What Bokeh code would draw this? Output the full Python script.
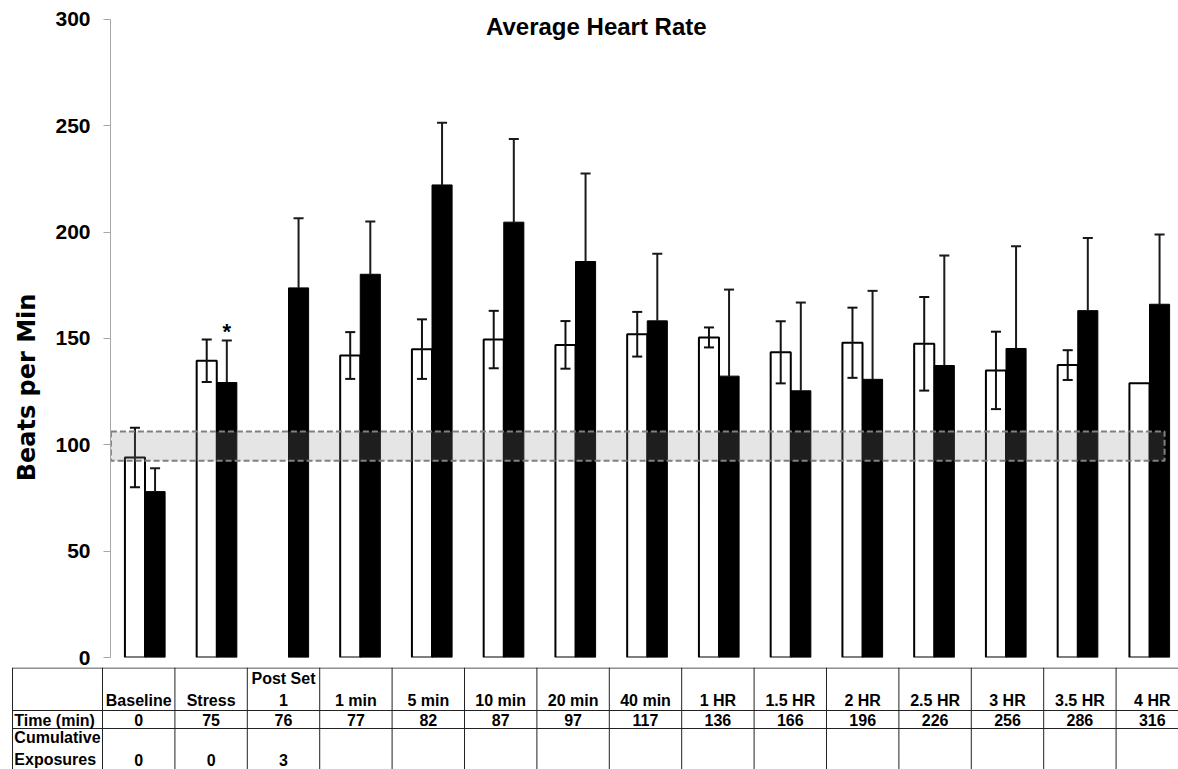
import numpy as np
from bokeh.plotting import figure
from bokeh.models import Range1d, FixedTicker, ColumnDataSource, LinearAxis
from bokeh.layouts import column
from bokeh.embed import file_html
from bokeh.resources import INLINE
from bokeh.core.properties import value

# ---------------- data ----------------
categories = ["Baseline", "Stress", "Post Set\n1", "1 min", "5 min", "10 min", "20 min",
              "40 min", "1 HR", "1.5 HR", "2 HR", "2.5 HR", "3 HR", "3.5 HR", "4 HR"]
time_min = ["0", "75", "76", "77", "82", "87", "97", "117", "136", "166", "196",
            "226", "256", "286", "316"]
cum_exposures = ["0", "0", "3", "", "", "", "", "", "", "", "", "", "", "", ""]

white_mean = [94, 139.5, np.nan, 142, 145, 149.5, 147, 152, 150.5, 143.5, 148, 147.5, 135, 137.5, 129]
white_err = [14, 10, np.nan, 11, 14, 13.5, 11.2, 10.5, 4.7, 14.6, 16.5, 22, 18.2, 7, np.nan]
black_mean = [78, 129.3, 173.8, 180.2, 222.2, 204.7, 186.2, 158.3, 132.3, 125.4, 130.8, 137.3, 145.3, 163.1, 166.1]
black_err = [11, 19.7, 32.7, 24.8, 29.2, 39.1, 41.4, 31.6, 40.7, 41.5, 41.6, 51.7, 48.1, 34.2, 32.8]
significance = ["", "*", "", "", "", "", "", "", "", "", "", "", "", "", ""]

ref_low, ref_high = 92.5, 106.3
y_ticks = [0, 50, 100, 150, 200, 250, 300]

FONT = value("Liberation Sans")

# ---------------- chart ----------------
n = len(categories)
xs = np.arange(n, dtype=float)
off, bw, cap = 0.14, 0.28, 0.07

wm = np.array(white_mean, dtype=float)
we = np.array(white_err, dtype=float)
bm = np.array(black_mean, dtype=float)
be = np.array(black_err, dtype=float)

p = figure(width=1178, height=667, x_range=Range1d(-0.481, 14.404), y_range=Range1d(0, 308.93),
           output_backend="svg", toolbar_location=None, x_axis_location=None,
           min_border_left=110, min_border_right=0, min_border_top=0, min_border_bottom=10,
           outline_line_color=None, background_fill_color="white", border_fill_color="white")
p.grid.visible = False
p.frame_align = False

ax = p.yaxis[0]
ax.ticker = FixedTicker(ticks=y_ticks)
ax.bounds = (0, 300)
ax.axis_line_color = "#a6a6a6"
ax.major_tick_line_color = "#a6a6a6"
ax.minor_tick_line_color = None
ax.major_tick_out = 7
ax.major_tick_in = 0
ax.major_label_text_font = "Liberation Sans"
ax.major_label_text_font_style = "bold"
ax.major_label_text_font_size = "21px"
ax.major_label_text_color = "black"
ax.major_label_standoff = 13

# outer axis used only to carry the axis title; trailing no-break spaces shift it lower
lab_axis = LinearAxis(ticker=FixedTicker(ticks=[]), bounds=(0, 300),
                      axis_line_color=None, major_tick_line_color=None, minor_tick_line_color=None,
                      major_tick_out=0, major_tick_in=0, major_label_text_font_size="0px",
                      axis_label="Beats per Min" + "\u00a0" * 14, axis_label_text_font="DejaVu Sans",
                      axis_label_text_font_style="bold", axis_label_text_font_size="24px",
                      axis_label_text_color="black", axis_label_standoff=12)
p.add_layout(lab_axis, "left")

src = ColumnDataSource(dict(
    xw=xs - off, xb=xs + off, wm=wm, bm=bm,
    wlo=wm - we, whi=wm + we, bhi=bm + be,
    xw0=xs - off - cap, xw1=xs - off + cap, xb0=xs + off - cap, xb1=xs + off + cap,
))

p.vbar(x="xw", top="wm", width=bw, source=src, fill_color="white", line_color="black", line_width=2)
p.vbar(x="xb", top="bm", width=bw, source=src, fill_color="black", line_color="black", line_width=1)

# error bars
p.segment(x0="xw", y0="wlo", x1="xw", y1="whi", source=src, line_color="#111111", line_width=2)
p.segment(x0="xw0", y0="whi", x1="xw1", y1="whi", source=src, line_color="#111111", line_width=2)
p.segment(x0="xw0", y0="wlo", x1="xw1", y1="wlo", source=src, line_color="#111111", line_width=2)
p.segment(x0="xb", y0="bm", x1="xb", y1="bhi", source=src, line_color="#1a1a1a", line_width=2)
p.segment(x0="xb0", y0="bhi", x1="xb1", y1="bhi", source=src, line_color="#1a1a1a", line_width=2)

# reference band
p.quad(left=[-0.475], right=[14.21], bottom=[ref_low], top=[ref_high],
       fill_color="#898989", fill_alpha=0.22, line_color="#808080", line_width=2, line_dash="6 3")

# significance marker
p.text(x=xs + off, y=bm + be + 10, text=significance, text_align="center", text_baseline="top",
       text_font=FONT, text_font_style="bold", text_font_size="22px", text_color="black")

# title
p.text(x=[6.29], y=[296.7], text=["Average Heart Rate"], text_align="center", text_baseline="middle",
       text_font=FONT, text_font_style="bold", text_font_size="24px", text_color="black")

# ---------------- data table ----------------
TH = 102
t = figure(width=1178, height=TH, x_range=Range1d(-1.909, 14.362), y_range=Range1d(TH, 0),
           output_backend="svg", toolbar_location=None, x_axis_location=None, y_axis_location=None,
           min_border=0, outline_line_color=None, background_fill_color="white",
           border_fill_color="white")
t.grid.visible = False
t.frame_align = False

left_edge = -1.743
hy = [0.5, 43, 61]
t.segment(x0=[left_edge] * len(hy), y0=hy, x1=[14.6] * len(hy), y1=hy, line_color="#222222", line_width=1)
vx = [left_edge] + [k - 0.5 for k in range(n)]
t.segment(x0=vx, y0=[0] * len(vx), x1=vx, y1=[TH] * len(vx), line_color="#222222", line_width=1)

tf = dict(text_font=FONT, text_font_style="bold", text_font_size="16px", text_color="black",
          text_line_height=1.25)
t.text(x=xs, y=[41] * n, text=categories, text_align="center", text_baseline="bottom", **tf)
t.text(x=xs, y=[52.5] * n, text=time_min, text_align="center", text_baseline="middle", **tf)
t.text(x=xs, y=[92] * n, text=cum_exposures, text_align="center", text_baseline="middle", **tf)
t.text(x=[left_edge + 0.025], y=[52.5], text=["Time (min)"], text_align="left", text_baseline="middle", **tf)
t.text(x=[left_edge + 0.025], y=[100], text=["Cumulative\nExposures"], text_align="left",
       text_baseline="bottom", **tf)

layout = column(p, t, spacing=0)
open("out.html", "w").write(file_html(layout, INLINE))
